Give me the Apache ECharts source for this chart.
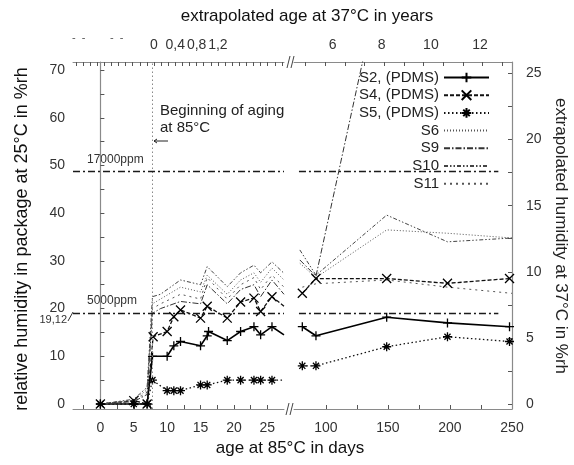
<!DOCTYPE html>
<html><head><meta charset="utf-8">
<script src="https://cdn.jsdelivr.net/npm/echarts@6/dist/echarts.min.js"></script>
<style>html,body{margin:0;padding:0;background:#fff}#c{width:574px;height:465px}</style>
</head><body><div id="c"></div>
<script>
// ---------------- data (days at 85°C, rel. humidity %rh at 25°C) ----------------
const names = ['S2, (PDMS)', 'S4, (PDMS)', 'S5, (PDMS)', 'S6', 'S9', 'S10', 'S11'];

const s2DaysL = [0, 5, 7, 7.8, 10, 11, 12, 15, 16, 16.2, 19, 21, 23, 24, 25.7, 27.5];
const s2ValsL = [0, 0, 0, 10, 10, 12.2, 13.1, 12.2, 14.3, 15.2, 13.3, 15.2, 16.2, 14.5, 16.2, 14.5];
const s2DaysR = [81, 92, 149, 198, 248];
const s2ValsR = [16.2, 14.3, 18.2, 17, 16.2];

const s4DaysL = [0, 5, 7, 7.9, 10, 11, 12, 15, 16, 19, 21, 23, 24, 25.7, 27.5];
const s4ValsL = [0, 0.7, 0, 14.1, 15.2, 18.3, 19.7, 18, 20.5, 18, 21.4, 22.2, 19.4, 22.5, 20.5];
const s4DaysR = [81, 92, 149, 198, 248];
const s4ValsR = [23.2, 26.3, 26.3, 25.3, 26.3];

const s5DaysL = [0, 5, 7, 7.8, 10, 11, 12, 15, 16, 19, 21, 23, 24, 25.7, 27.5];
const s5ValsL = [0, 0, 0, 5, 2.8, 2.8, 2.8, 4, 4, 5, 5, 5, 5, 5, 5];
const s5DaysR = [81, 92, 149, 198, 248];
const s5ValsR = [8, 8, 12, 14.1, 13.1];

const plainDaysL = [0, 5, 7, 7.8, 9, 12, 15, 16, 19, 21, 23, 24, 25.7, 27.5];
const s6ValsL  = [0, 0.8, 3, 21, 22, 24.5, 23.5, 27, 23, 26, 27.5, 25.5, 28.5, 26];
const s9ValsL  = [0, 0.5, 2, 19, 20, 21.5, 21, 25, 21, 24, 25, 22.5, 26, 23];
const s10ValsL = [0, 1, 3.5, 22.5, 23, 26, 25, 28.8, 24.6, 27.5, 29.1, 27.5, 29.8, 27.4];
const s11ValsL = [0, 0.6, 2.5, 20, 21, 23, 22, 26.5, 22, 25, 26.5, 24, 27, 24.5];

const s6DaysR = [79, 92, 149, 198, 250];
const s6ValsR = [29.5, 26.5, 36.5, 35.8, 34.8];
const s9DaysR = [79, 92, 149];
const s9ValsR = [30.2, 26.8, 95];
const s10DaysR = [79, 92, 149, 198, 250];
const s10ValsR = [32.3, 27, 39.6, 34, 34.8];
const s11DaysR = [81, 92, 149, 198, 250];
const s11ValsR = [24.5, 25.2, 26, 24.5, 23.2];

const agingStartDay = 7.8;
const ppm5000 = 19.12, ppm17000 = 48.8;

// tick labels
const dayLabelsL = [0, 5, 10, 15, 20, 25];
const dayLabelsR = [100, 150, 200, 250];
const yearLabelsL = [0, 0.4, 0.8, 1.2];
const yearLabelsR = [6, 8, 10, 12];
const rhLabelsL = [0, 10, 20, 30, 40, 50, 60, 70];
const rhLabelsR = [0, 5, 10, 15, 20, 25];

// ---------------- helpers ----------------
function range(a, b, s) { const r = []; for (let v = a; v <= b + 1e-9; v += s) r.push(+v.toFixed(4)); return r; }
function pts(d, v, lo, hi) {
  return d.map((x, i) => {
    const it = { value: [x, v[i]] };
    if (x <= lo || x >= hi) it.symbol = 'none';
    return it;
  });
}
const FONT = 'Liberation Sans, Arial, sans-serif';
const AX = '#8a8a8a';
const plus = 'path://M0,5L10,5M5,0L5,10';
const cross = 'path://M0,0L10,10M10,0L0,10';
const star = 'path://M0,5L10,5M5,0L5,10M1.6,1.6L8.4,8.4M8.4,1.6L1.6,8.4';

const styles = {
  'S2, (PDMS)': { sym: plus, line: { color: '#000', width: 1.6, type: 'solid' } },
  'S4, (PDMS)': { sym: cross, line: { color: '#111', width: 1.3, type: [4, 2] } },
  'S5, (PDMS)': { sym: star, line: { color: '#111', width: 1.3, type: [1.5, 2.5] } },
  'S6': { sym: 'none', line: { color: '#555', width: 1, type: [1, 2] } },
  'S9': { sym: 'none', line: { color: '#333', width: 1, type: [6, 2, 1.5, 2] } },
  'S10': { sym: 'none', line: { color: '#444', width: 1, type: [4, 2, 1.5, 2, 1.5, 2] } },
  'S11': { sym: 'none', line: { color: '#555', width: 1, type: [2, 4] } }
};

function ser(name, d, v, panel) {
  const st = styles[name];
  return {
    type: 'line', name,
    xAxisIndex: panel === 'L' ? 0 : 2,
    yAxisIndex: panel === 'L' ? 0 : 2,
    data: panel === 'L' ? pts(d, v, -99, 27.4) : pts(d, v, 74.3, 999),
    symbol: st.sym, symbolSize: 9, showSymbol: st.sym !== 'none',
    itemStyle: { color: '#000', borderColor: '#000', borderWidth: 1.3 },
    lineStyle: st.line, clip: true, animation: false, silent: true, z: 3
  };
}

const series = [
  ser('S2, (PDMS)', s2DaysL, s2ValsL, 'L'), ser('S2, (PDMS)', s2DaysR, s2ValsR, 'R'),
  ser('S4, (PDMS)', s4DaysL, s4ValsL, 'L'), ser('S4, (PDMS)', s4DaysR, s4ValsR, 'R'),
  ser('S5, (PDMS)', s5DaysL, s5ValsL, 'L'), ser('S5, (PDMS)', s5DaysR, s5ValsR, 'R'),
  ser('S6', plainDaysL, s6ValsL, 'L'), ser('S6', s6DaysR, s6ValsR, 'R'),
  ser('S9', plainDaysL, s9ValsL, 'L'), ser('S9', s9DaysR, s9ValsR, 'R'),
  ser('S10', plainDaysL, s10ValsL, 'L'), ser('S10', s10DaysR, s10ValsR, 'R'),
  ser('S11', plainDaysL, s11ValsL, 'L'), ser('S11', s11DaysR, s11ValsR, 'R')
];
const refLine = { color: '#1a1a1a', width: 1.3, type: [7, 3, 2, 3] };
series.push({
  type: 'line', name: 'refL', xAxisIndex: 0, yAxisIndex: 0, data: [], silent: true, animation: false,
  markLine: { silent: true, symbol: 'none', animation: false, label: { show: false },
    data: [
      { xAxis: agingStartDay, lineStyle: { color: '#888', width: 1, type: [1.5, 2.5] } },
      { yAxis: ppm5000, lineStyle: refLine },
      { yAxis: ppm17000, lineStyle: refLine }
    ] }
});
series.push({
  type: 'line', name: 'refR', xAxisIndex: 2, yAxisIndex: 2, data: [], silent: true, animation: false,
  markLine: { silent: true, symbol: 'none', animation: false, label: { show: false }, lineStyle: refLine,
    data: [
      [{ coord: [78.3, ppm5000] }, { coord: [239, ppm5000] }],
      [{ coord: [78.3, ppm17000] }, { coord: [239, ppm17000] }]
    ] }
});

const labelStyle = { color: '#333', fontSize: 14, fontFamily: FONT };
function xAxis(grid, pos, min, max, labels, ticks, fmt) {
  return {
    type: 'value', gridIndex: grid, position: pos, min, max,
    axisLine: { show: true, onZero: false, lineStyle: { color: AX, width: 1 } },
    axisTick: { show: true, inside: true, length: 4, customValues: ticks, lineStyle: { color: '#555' } },
    axisLabel: Object.assign({ show: true, customValues: labels, margin: pos === 'bottom' ? 12 : 10,
      formatter: fmt || (v => String(v)) }, labelStyle),
    splitLine: { show: false }
  };
}
const commaFmt = v => String(+v.toFixed(2)).replace('.', ',');

const legendData = names.map(n => styles[n].sym === 'none' ? { name: n, itemStyle: { opacity: 0 } } : { name: n });

const option = {
  animation: false,
  backgroundColor: '#fff',
  textStyle: { fontFamily: FONT },
  grid: [
    { left: 73, right: 574 - 284, top: 62, bottom: 465 - 409 },
    { left: 294, right: 574 - 512, top: 62, bottom: 465 - 409 }
  ],
  xAxis: [
    xAxis(0, 'bottom', -4.1, 27.5, dayLabelsL, range(-2.5, 25, 2.5)),
    xAxis(0, 'top', -1.52, 2.44, yearLabelsL, range(-1.4667, 2.4, 0.4 / 3), commaFmt),
    xAxis(1, 'bottom', 74.3, 250, dayLabelsR, range(100, 225, 25)),
    xAxis(1, 'top', 4.43, 13.3, yearLabelsR, range(4.9, 12.9, 0.8))
  ],
  yAxis: [
    { type: 'value', gridIndex: 0, position: 'left', min: -1.05, max: 71.7,
      axisLine: { show: true, lineStyle: { color: AX, width: 1.2 } },
      axisTick: { show: true, inside: true, length: 4, customValues: range(0, 70, 5), lineStyle: { color: '#555' } },
      axisLabel: Object.assign({ customValues: rhLabelsL, margin: 8 }, labelStyle),
      splitLine: { show: false } },
    { type: 'value', gridIndex: 1, position: 'right', min: -0.38, max: 25.87,
      axisLine: { show: true, lineStyle: { color: AX, width: 1.2 } },
      axisTick: { show: true, inside: true, length: 4, customValues: range(0, 25, 2.5), lineStyle: { color: '#555' } },
      axisLabel: Object.assign({ customValues: rhLabelsR, margin: 14 }, labelStyle),
      splitLine: { show: false } },
    { type: 'value', gridIndex: 1, min: -1.05, max: 71.7, show: false }
  ],
  legend: {
    data: legendData, orient: 'vertical', align: 'right', right: 79, top: 65,
    itemWidth: 45, itemHeight: 12, itemGap: 2.7, selectedMode: false,
    textStyle: { color: '#222', fontSize: 15, fontFamily: FONT }
  },
  series,
  graphic: [
    { type: 'text', x: 307, y: 16, style: { text: 'extrapolated age at 37°C in years', font: '17px ' + FONT, fill: '#111', align: 'center', verticalAlign: 'middle' } },
    { type: 'text', x: 290, y: 448, style: { text: 'age at 85°C in days', font: '17px ' + FONT, fill: '#111', align: 'center', verticalAlign: 'middle' } },
    { type: 'text', x: 22, y: 239, rotation: Math.PI / 2, style: { text: 'relative humidity in package at 25°C in %rh', font: '18px ' + FONT, fill: '#111', align: 'center', verticalAlign: 'middle' } },
    { type: 'text', x: 561, y: 236, rotation: -Math.PI / 2, style: { text: 'extrapolated humidity at 37°C in %rh', font: '17px ' + FONT, fill: '#222', align: 'center', verticalAlign: 'middle' } },
    { type: 'text', x: 160, y: 111, style: { text: 'Beginning of aging', font: '15px ' + FONT, fill: '#222', verticalAlign: 'middle' } },
    { type: 'text', x: 160, y: 128, style: { text: 'at 85°C', font: '15px ' + FONT, fill: '#222', verticalAlign: 'middle' } },
    { type: 'polyline', shape: { points: [[168, 141], [154, 141]] }, style: { stroke: '#222', lineWidth: 1 } },
    { type: 'polyline', shape: { points: [[157, 139], [154, 141], [157, 143]] }, style: { stroke: '#222', lineWidth: 1, fill: null } },
    { type: 'text', x: 87, y: 160, style: { text: '17000ppm', font: '12px ' + FONT, fill: '#333', verticalAlign: 'middle' } },
    { type: 'text', x: 87, y: 301, style: { text: '5000ppm', font: '12px ' + FONT, fill: '#333', verticalAlign: 'middle' } },
    { type: 'text', x: 67, y: 320, style: { text: '19,12', font: '11px ' + FONT, fill: '#333', align: 'right', verticalAlign: 'middle' } },
    { type: 'polyline', shape: { points: [[68, 321], [73, 312]] }, style: { stroke: '#333', lineWidth: 1 } },
    { type: 'text', x: 72, y: 38, style: { text: '-  -', font: '11px ' + FONT, fill: '#555', verticalAlign: 'middle' } },
    { type: 'text', x: 110, y: 38, style: { text: '-  -', font: '11px ' + FONT, fill: '#555', verticalAlign: 'middle' } },
    // axis break marks
    { type: 'polyline', shape: { points: [[285, 409], [293, 409]] }, style: { stroke: '#fff', lineWidth: 3 } },
    { type: 'polyline', shape: { points: [[285, 62], [293, 62]] }, style: { stroke: '#fff', lineWidth: 3 } },
    { type: 'polyline', shape: { points: [[286, 415], [289, 403]] }, style: { stroke: '#444', lineWidth: 1 } },
    { type: 'polyline', shape: { points: [[290, 415], [293, 403]] }, style: { stroke: '#444', lineWidth: 1 } },
    { type: 'polyline', shape: { points: [[287, 68], [290, 56]] }, style: { stroke: '#444', lineWidth: 1 } },
    { type: 'polyline', shape: { points: [[291, 68], [294, 56]] }, style: { stroke: '#444', lineWidth: 1 } }
  ]
};
const chart = echarts.init(document.getElementById('c'), null, { renderer: 'canvas' });
chart.setOption(option);
</script></body></html>
